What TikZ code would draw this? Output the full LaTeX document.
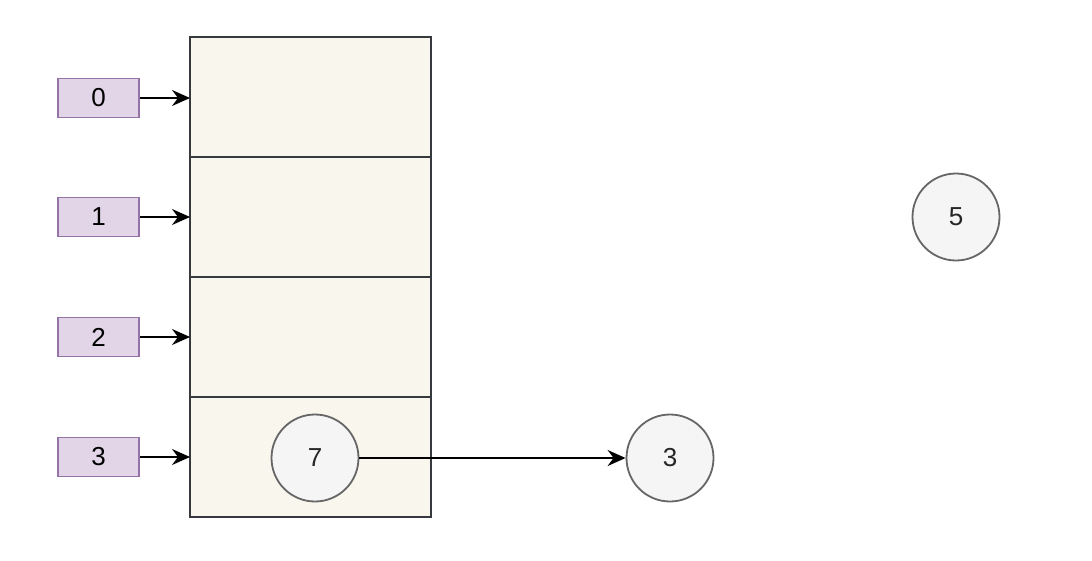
\documentclass[tikz,border=0pt]{standalone}
\usepackage{fontspec}
\setmainfont{Liberation Sans}
\usetikzlibrary{arrows.meta,positioning}
\definecolor{idxfill}{HTML}{E1D5E7}
\definecolor{idxdraw}{HTML}{9673A6}
\definecolor{slotfill}{HTML}{F9F7ED}
\definecolor{slotdraw}{HTML}{36393D}
\definecolor{keyfill}{HTML}{F5F5F5}
\definecolor{keydraw}{HTML}{666666}

\begin{document}
\begin{tikzpicture}[x=1pt, y=-1pt,
  idx/.style={draw=idxdraw, fill=idxfill, line width=1.8pt, minimum width=81pt, minimum height=39pt, inner sep=0pt, font=\fontsize{26}{28}\selectfont},
  slot/.style={draw=slotdraw, fill=slotfill, line width=1.6pt, minimum width=241pt, minimum height=120pt, inner sep=0pt, outer sep=0pt},
  key/.style={circle, draw=keydraw, fill=keyfill, line width=1.8pt, minimum size=87pt, inner sep=0pt, font=\fontsize{26}{28}\selectfont, text=black!85},
  arrow/.style={-{Stealth[length=18pt, width=16pt, inset=6pt]}, line width=1.8pt}]

\useasboundingbox (0,0) rectangle (1092,560);

% the table of buckets
\node[slot] (s0) at (310.5,97) {};
\node[slot, below=0pt of s0] (s1) {};
\node[slot, below=0pt of s1] (s2) {};
\node[slot, below=0pt of s2] (s3) {};

% bucket indices
\foreach \i/\y in {0/98,1/217,2/337,3/457} {
  \node[idx] (i\i) at (98.5,\y) {\i};
  \draw[arrow] (i\i.east) -- (i\i.east -| s\i.west);
}

% keys
\node[key] (k7) at (315,458) {7};
\node[key] (k3) at (670,458) {3};
\node[key] (k5) at (956,217) {5};

\draw[arrow] (k7.east) -- (k3.west);
\end{tikzpicture}
\end{document}
